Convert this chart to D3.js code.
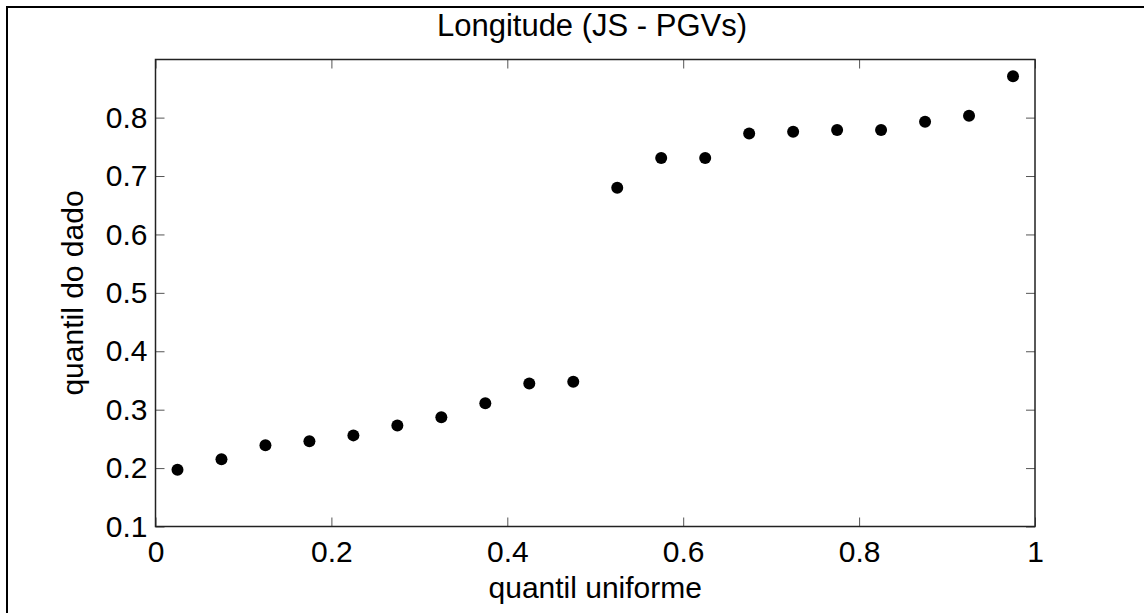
<!DOCTYPE html>
<html>
<head>
<meta charset="utf-8">
<script src="https://cdn.jsdelivr.net/npm/d3@7"></script>
<style>
  body { margin: 0; background: #fff; }
  svg { display: block; }
  text { font-family: "Liberation Sans", Arial, Helvetica, sans-serif; fill: #000; }
</style>
</head>
<body>
<svg id="chart" width="1144" height="613"></svg>
<script>
// uniform quantiles (i - 0.5) / 20
var uniformQuantiles = [0.025, 0.075, 0.125, 0.175, 0.225, 0.275, 0.325, 0.375, 0.425, 0.475,
                        0.525, 0.575, 0.625, 0.675, 0.725, 0.775, 0.825, 0.875, 0.925, 0.975];
// data quantiles
var dataQuantiles = [0.197, 0.215, 0.239, 0.246, 0.256, 0.273, 0.287, 0.311, 0.345, 0.348,
                     0.680, 0.731, 0.731, 0.773, 0.776, 0.779, 0.779, 0.793, 0.803, 0.871];
var xTicks = [0, 0.2, 0.4, 0.6, 0.8, 1];
var yTicks = [0.1, 0.2, 0.3, 0.4, 0.5, 0.6, 0.7, 0.8];

var titleText = 'Longitude (JS - PGVs)';
var xLabelText = 'quantil uniforme';
var yLabelText = 'quantil do dado';

(function() {
  var svg = d3.select('#chart');
  // plot box in pixels
  var pLeft = 155.5, pRight = 1035, pTop = 59.5, pBottom = 526.5;
  var tickLen = 9;

  var x = d3.scaleLinear().domain([0, 1]).range([pLeft, pRight]);
  var y = d3.scaleLinear().domain([0.1, 0.8995]).range([pBottom, pTop]);

  // figure frame (top and left edges visible)
  svg.append('path')
    .attr('d', 'M7,613 L7,7 L1144,7')
    .attr('fill', 'none')
    .attr('stroke', '#000')
    .attr('stroke-width', 2);

  var styleAxis = function(g) {
    g.selectAll('text')
      .style('font-family', '"Liberation Sans", Arial, sans-serif')
      .style('font-size', '30px')
      .attr('fill', '#000');
    g.selectAll('.tick line').attr('stroke', '#555');
    g.select('.domain').remove();
  };

  // axes with inward ticks on every side
  svg.append('g')
    .attr('transform', 'translate(0,' + pBottom + ')')
    .call(d3.axisBottom(x).tickValues(xTicks).tickSizeInner(-tickLen).tickSizeOuter(0)
      .tickPadding(14).tickFormat(d3.format('~g')))
    .call(styleAxis);

  svg.append('g')
    .attr('transform', 'translate(0,' + pTop + ')')
    .call(d3.axisTop(x).tickValues(xTicks).tickSizeInner(-tickLen).tickSizeOuter(0).tickFormat(''))
    .call(styleAxis);

  svg.append('g')
    .attr('transform', 'translate(' + pLeft + ',0)')
    .call(d3.axisLeft(y).tickValues(yTicks).tickSizeInner(-tickLen).tickSizeOuter(0)
      .tickPadding(8).tickFormat(d3.format('.1f')))
    .call(styleAxis);

  svg.append('g')
    .attr('transform', 'translate(' + pRight + ',0)')
    .call(d3.axisRight(y).tickValues(yTicks).tickSizeInner(-tickLen).tickSizeOuter(0).tickFormat(''))
    .call(styleAxis);

  // box
  svg.append('rect')
    .attr('x', pLeft).attr('y', pTop)
    .attr('width', pRight - pLeft).attr('height', pBottom - pTop)
    .attr('fill', 'none')
    .attr('stroke', '#222')
    .attr('stroke-width', 1.5);

  // points
  svg.append('g')
    .selectAll('circle')
    .data(d3.zip(uniformQuantiles, dataQuantiles))
    .enter()
    .append('circle')
      .attr('cx', function(d) { return x(d[0]); })
      .attr('cy', function(d) { return y(d[1]); })
      .attr('r', 6)
      .attr('fill', '#000');

  // labels
  svg.append('text')
    .attr('x', 592).attr('y', 36)
    .attr('text-anchor', 'middle')
    .style('font-size', '31px')
    .text(titleText);

  svg.append('text')
    .attr('x', (pLeft + pRight) / 2).attr('y', 598)
    .attr('text-anchor', 'middle')
    .style('font-size', '30px')
    .text(xLabelText);

  svg.append('text')
    .attr('transform', 'translate(83,' + ((pTop + pBottom) / 2) + ') rotate(-90)')
    .attr('text-anchor', 'middle')
    .style('font-size', '30px')
    .text(yLabelText);
})();
</script>
</body>
</html>
